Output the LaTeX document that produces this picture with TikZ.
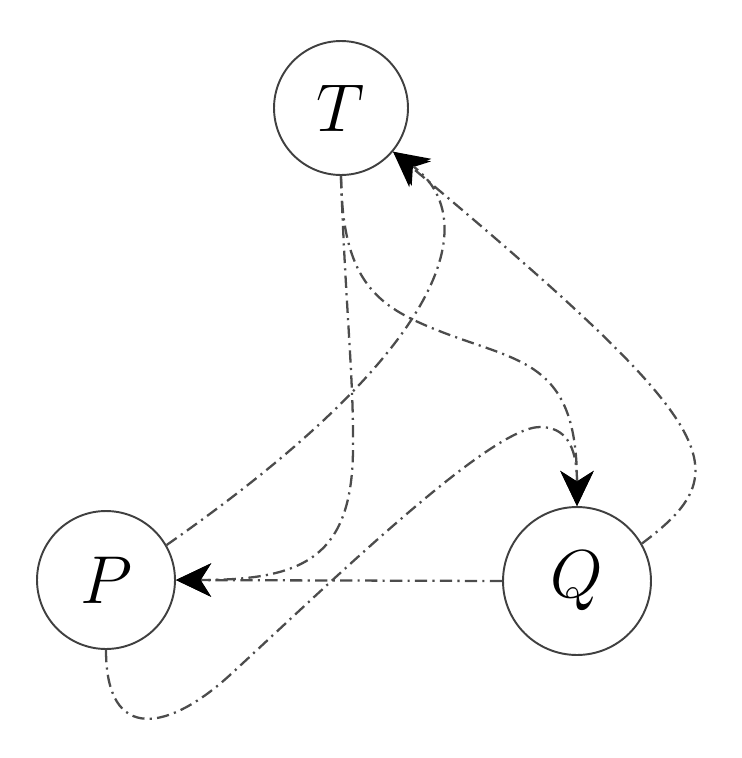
\documentclass[tikz,border=0pt]{standalone}
\usepackage{graphicx}
\usetikzlibrary{arrows.meta}
\newcommand\bigsym[1]{\scalebox{1.55}{$#1$}}
\begin{document}
\begin{tikzpicture}[x=0.02cm,y=-0.02cm,
  state/.style={circle,draw=black!75,line width=1.1pt,inner sep=0pt,font=\fontsize{24.88}{30}\selectfont},
  link/.style={draw=black!70,line width=1.3pt,dash pattern=on 7pt off 3pt on 1.2pt off 3pt},
  tip/.style={-{Stealth[length=20pt,width=19pt,inset=6pt,black]}}]
\useasboundingbox (0,0) rectangle (742,758);
\node[state,minimum size=2.68cm] (T) at (341,108) {\bigsym{T}};
\node[state,minimum size=2.76cm] (P) at (106,580) {\bigsym{P}};
\node[state,minimum size=2.96cm] (Q) at (577,581) {\bigsym{Q}};
% T -> P
\draw[link,tip] (T.south) .. controls (345,300) and (354,380) .. (353,450)
  .. controls (352,560) and (300,580) .. (P.east);
% T -> Q
\draw[link,tip] (T.south) .. controls (342,270) and (370,300) .. (418,322)
  .. controls (510,364) and (577,350) .. (Q.north);
% P -> Q
\draw[link,tip] (P.south) .. controls (106,745) and (170,730) .. (230,675)
  .. controls (330,583) and (490,427) .. (540,427)
  .. controls (565,427) and (577,445) .. (Q.north);
% Q -> T
\draw[link,tip] (Q.30) .. controls (740,470) and (725,430) .. (T.-40);
% P -> T
\draw[link,tip] (P.30) .. controls (460,340) and (480,215) .. (T.-40);
% Q -> P
\draw[link,tip] (Q.west) -- (P.east);
\end{tikzpicture}
\end{document}
